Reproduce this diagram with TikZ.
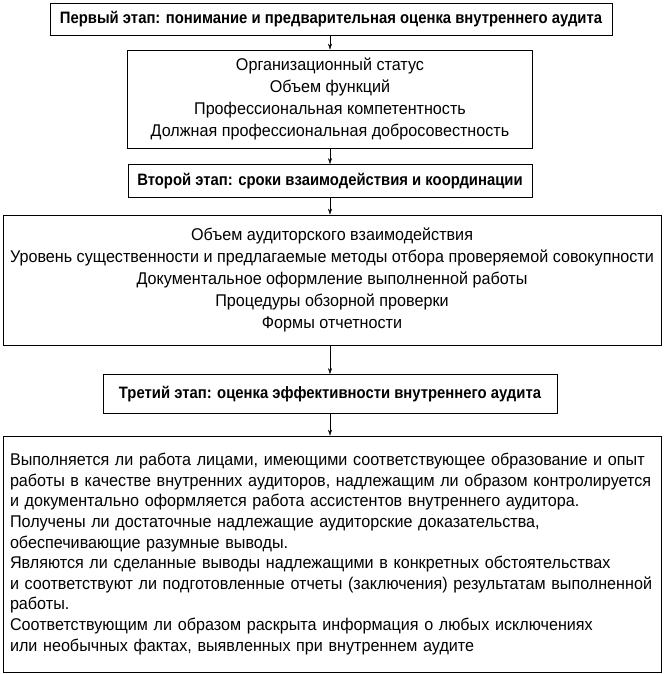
\documentclass[tikz,border=0pt]{standalone}
\usepackage{fontspec}
\setmainfont{Liberation Sans}[FakeStretch=0.95,BoldFeatures={FakeStretch=0.9}]
\usetikzlibrary{arrows.meta}
\begin{document}
\begin{tikzpicture}[x=1pt,y=-1pt,
  stage/.style={draw,thick,font=\fontsize{16.5}{20}\selectfont\bfseries,inner sep=0pt},
  content/.style={draw,thick,font=\fontsize{17}{22}\selectfont,align=center,inner sep=0pt},
  link/.style={-{Stealth[length=6pt,width=4pt]}}]
\useasboundingbox (0,0) rectangle (664,674);
\node[stage,minimum width=562,minimum height=32] (s1) at (331,19) {Первый этап: понимание и предварительная оценка внутреннего аудита};
\node[content,minimum width=405,minimum height=98] (c1) at (330,99) {Организационный статус\\Объем функций\\Профессиональная компетентность\\Должная профессиональная добросовестность};
\node[stage,minimum width=404,minimum height=33] (s2) at (330,181) {Второй этап: сроки взаимодействия и координации};
\node[content,minimum width=658,minimum height=130] (c2) at (332,280) {Объем аудиторского взаимодействия\\Уровень существенности и предлагаемые методы отбора проверяемой совокупности\\Документальное оформление выполненной работы\\Процедуры обзорной проверки\\Формы отчетности};
\node[stage,minimum width=454,minimum height=39] (s3) at (330,394) {Третий этап: оценка эффективности внутреннего аудита};
\node[content,font=\fontsize{17}{20.6}\selectfont,minimum width=658,minimum height=236,align=left,text width=644,inner xsep=7pt] (c3) at (332,554) {Выполняется ли работа лицами, имеющими соответствующее образование и опыт\\работы в качестве внутренних аудиторов, надлежащим ли образом контролируется\\и документально оформляется работа ассистентов внутреннего аудитора.\\Получены ли достаточные надлежащие аудиторские доказательства,\\обеспечивающие разумные выводы.\\Являются ли сделанные выводы надлежащими в конкретных обстоятельствах\\и соответствуют ли подготовленные отчеты (заключения) результатам выполненной\\работы.\\Соответствующим ли образом раскрыта информация о любых исключениях\\или необычных фактах, выявленных при внутреннем аудите};
\draw[link] (s1.south -| c1) -- (c1.north);
\draw[link] (c1.south) -- (s2.north);
\draw[link] (s2.south) -- (s2.south |- c2.north);
\draw[link] (s3.south |- c2.south) -- (s3.north);
\draw[link] (s3.south) -- (s3.south |- c3.north);
\end{tikzpicture}
\end{document}
